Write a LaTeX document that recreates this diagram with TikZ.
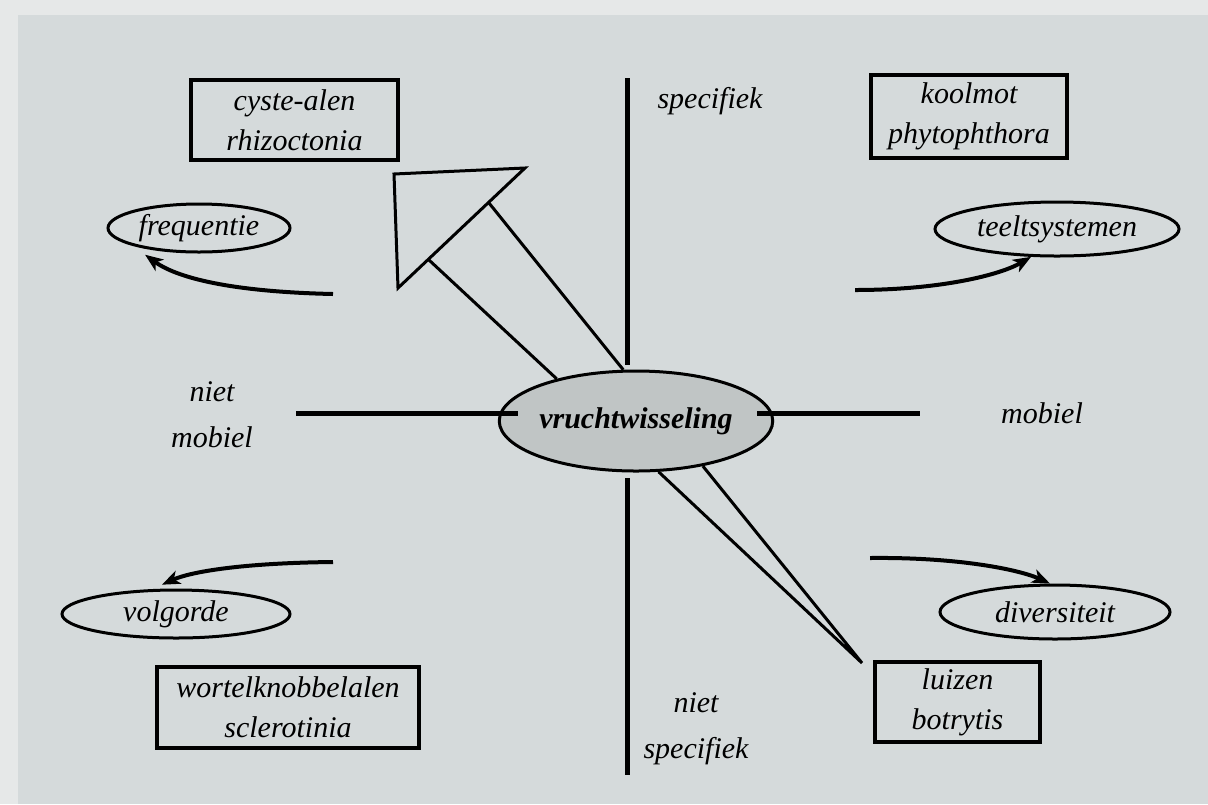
\documentclass[tikz,border=0pt]{standalone}
\usepackage{fontspec}
\setmainfont{Liberation Serif}
\usepackage{xcolor}
\usetikzlibrary{shapes.geometric, arrows.meta}
\definecolor{paper}{RGB}{230,232,232}
\definecolor{panel}{RGB}{213,218,219}
\definecolor{blob}{RGB}{192,197,197}

\begin{document}
\begin{tikzpicture}[x=0.5pt, y=-0.5pt,
    lbl/.style={font=\fontsize{15}{23}\selectfont\itshape, align=center},
    kader/.style={draw, line width=1.6pt, inner sep=0pt, align=center,
      font=\fontsize{15}{20}\selectfont\itshape},
    ovaal/.style={draw, ellipse, line width=1.5pt, inner sep=0pt,
      font=\fontsize{15}{18}\selectfont\itshape},
    as/.style={line width=2.5pt},
    pijl/.style={line width=2pt, -{Stealth[length=9pt, width=7pt, inset=2.5pt]}},
    spits/.style={line width=1.5pt, line join=miter}]
  \useasboundingbox (0,0) rectangle (1208,804);
  \fill[paper] (0,0) rectangle (1208,804);
  \fill[panel] (18,15) rectangle (1208,804);

  % midden
  \node[ovaal, fill=blob, minimum width=119pt, minimum height=50pt,
    font=\fontsize{15}{18}\selectfont\bfseries\itshape] (vw) at (636,421) {vruchtwisseling};

  % assen
  \coordinate (boven) at (627,78);
  \coordinate (bovenin) at (627,365);
  \coordinate (onderin) at (627,478);
  \coordinate (onder) at (627,775);
  \coordinate (links) at (296,413);
  \coordinate (linksin) at (518,413);
  \coordinate (rechtsin) at (757,413);
  \coordinate (rechts) at (920,413);
  \draw[as] (boven) -- (bovenin);
  \draw[as] (onderin) -- (onder);
  \draw[as] (links) -- (linksin);
  \draw[as] (rechtsin) -- (rechts);

  \node[lbl] (spec) at (710,101) {specifiek};
  \node[lbl] (nspec) at (696,729) {niet\\specifiek};
  \node[lbl] (mob) at (1042,413) {mobiel};
  \node[lbl] (nmob) at (212,415) {niet\\mobiel};

  % kaders
  \node[kader, minimum width=103.5pt, minimum height=40pt] (cyste) at (294.5,120) {cyste-alen\\rhizoctonia};
  \node[kader, minimum width=98pt, minimum height=41.5pt] (kool) at (969,116.5) {koolmot\\phytophthora};
  \node[kader, minimum width=131pt, minimum height=40.5pt] (wortel) at (288,707.5) {wortelknobbelalen\\sclerotinia};
  \node[kader, minimum width=82.5pt, minimum height=40pt] (luis) at (957.5,702) {luizen\\botrytis};

  % ovalen
  \node[ovaal, minimum width=91pt, minimum height=24pt] (freq) at (199,228) {frequentie};
  \node[ovaal, minimum width=122pt, minimum height=27pt] (teelt) at (1057,229) {teeltsystemen};
  \node[ovaal, minimum width=114pt, minimum height=24pt] (volg) at (176,614) {volgorde};
  \node[ovaal, minimum width=115pt, minimum height=27pt] (div) at (1055,612) {diversiteit};

  % grote pijl
  \draw[spits] (394,174) -- (525,168) -- (398,288) -- cycle;
  \draw[spits] (vw.152) -- (429,260);
  \draw[spits] (vw.104) -- (489,203);

  % spits naar luizen
  \coordinate (punt) at (862,663);
  \draw[spits] (vw.-66) -- (punt) -- (vw.-34);

  % gebogen pijlen
  \coordinate (fq0) at (333,294);
  \coordinate (te0) at (855,290);
  \coordinate (vo0) at (333,562);
  \coordinate (di0) at (870,558);
  \draw[pijl] (fq0) .. controls (240,292) and (180,280) .. ([yshift=-3pt]freq.-159);
  \draw[pijl] (te0) .. controls (940,290) and (1000,275) .. (teelt.-133);
  \draw[pijl] (vo0) .. controls (240,563) and (190,572) .. ([yshift=2pt]volg.119);
  \draw[pijl] (di0) .. controls (960,557) and (1020,570) .. (div.100);
\end{tikzpicture}
\end{document}
